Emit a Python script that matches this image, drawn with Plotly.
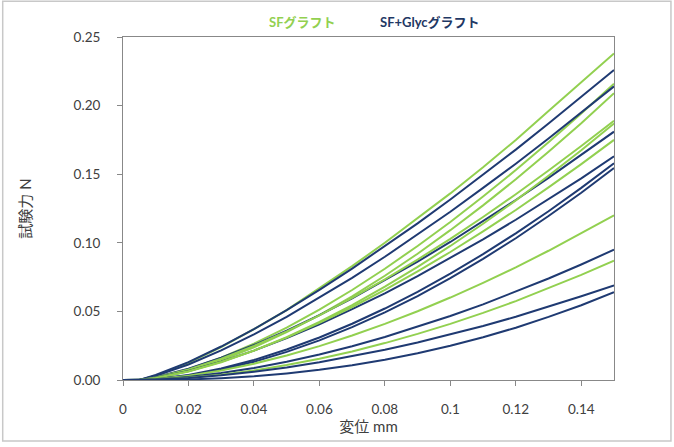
import plotly.graph_objects as go

# Displacement (mm)
x_mm = [0, 0.005, 0.01, 0.02, 0.03, 0.04, 0.05, 0.06, 0.07, 0.08, 0.09, 0.10,
        0.11, 0.12, 0.13, 0.14, 0.15]

# SF graft curves (test force, N)
sf_1 = [0, 0, 0.003, 0.0126, 0.024, 0.037, 0.051, 0.067, 0.083, 0.100, 0.118, 0.136, 0.155, 0.175, 0.196, 0.217, 0.238]
sf_2 = [0, 0, 0.0018, 0.0078, 0.0162, 0.0265, 0.0382, 0.0513, 0.0656, 0.0811, 0.0977, 0.1152, 0.1337, 0.153, 0.1733, 0.1942, 0.216]
sf_3 = [0, 0, 0.0015, 0.0068, 0.0144, 0.0239, 0.0349, 0.0473, 0.061, 0.076, 0.092, 0.1092, 0.1273, 0.1463, 0.1664, 0.1872, 0.209]
sf_4 = [0, 0, 0.0018, 0.0077, 0.0155, 0.0248, 0.0354, 0.0471, 0.0598, 0.0733, 0.0878, 0.1029, 0.1188, 0.1354, 0.1527, 0.1705, 0.189]
sf_5 = [0, 0, 0.0013, 0.0061, 0.0129, 0.0214, 0.0312, 0.0424, 0.0546, 0.068, 0.0824, 0.0977, 0.1139, 0.1309, 0.1489, 0.1675, 0.187]
sf_6 = [0, 0, 0.0015, 0.0064, 0.0132, 0.0214, 0.0309, 0.0416, 0.0532, 0.0657, 0.0792, 0.0933, 0.1083, 0.1239, 0.1404, 0.1573, 0.175]
sf_7 = [0, 0, 0.0006, 0.0031, 0.007, 0.0119, 0.0178, 0.0247, 0.0324, 0.0409, 0.0501, 0.0601, 0.0708, 0.0821, 0.0942, 0.1068, 0.120]
sf_8 = [0, 0, 0.0003, 0.0016, 0.0039, 0.007, 0.0109, 0.0155, 0.0208, 0.0269, 0.0336, 0.0409, 0.0489, 0.0575, 0.0668, 0.0766, 0.087]

# SF+Glyc graft curves (test force, N)
gl_1 = [0, 0, 0.0037, 0.013, 0.0244, 0.0371, 0.0509, 0.0657, 0.0812, 0.0974, 0.1142, 0.1316, 0.1495, 0.1679, 0.1869, 0.2062, 0.226]
gl_2 = [0, 0, 0.0031, 0.0113, 0.0216, 0.0332, 0.046, 0.060, 0.0745, 0.0898, 0.106, 0.1226, 0.140, 0.1576, 0.176, 0.1947, 0.214]
gl_3 = [0, 0, 0.0021, 0.0082, 0.0162, 0.0255, 0.0359, 0.0473, 0.0595, 0.0726, 0.0863, 0.1006, 0.1156, 0.1312, 0.1473, 0.1639, 0.181]
gl_4 = [0, 0, 0.0016, 0.0066, 0.0134, 0.0214, 0.0305, 0.0406, 0.0516, 0.0632, 0.0757, 0.0888, 0.1025, 0.1168, 0.1317, 0.147, 0.163]
gl_5 = [0, 0, 0.0007, 0.0037, 0.0084, 0.0146, 0.0222, 0.031, 0.041, 0.0521, 0.0643, 0.0775, 0.0917, 0.1069, 0.123, 0.14, 0.158]
gl_6 = [0, 0, 0.0006, 0.0032, 0.0076, 0.0133, 0.0205, 0.0289, 0.0385, 0.0493, 0.0612, 0.0742, 0.0883, 0.1033, 0.1195, 0.1365, 0.1545]
gl_7 = [0, 0, 0.0004, 0.0022, 0.0051, 0.0088, 0.0133, 0.0186, 0.0246, 0.0313, 0.0387, 0.0466, 0.0551, 0.0643, 0.074, 0.0842, 0.095]
gl_8 = [0, 0, 0.0003, 0.0014, 0.0034, 0.006, 0.0091, 0.0129, 0.0172, 0.022, 0.0273, 0.0332, 0.0394, 0.0461, 0.0534, 0.061, 0.069]
gl_9 = [0, 0, 0.0000, 0.0004, 0.0013, 0.0027, 0.0048, 0.0074, 0.0107, 0.0147, 0.0195, 0.0249, 0.0312, 0.0381, 0.046, 0.0545, 0.064]

sf_series = [sf_1, sf_2, sf_3, sf_4, sf_5, sf_6, sf_7, sf_8]
gl_series = [gl_1, gl_2, gl_3, gl_4, gl_5, gl_6, gl_7, gl_8, gl_9]

legend_names = ["SFグラフト", "SF+Glycグラフト"]
x_title = "変位 mm"
y_title = "試験力 N"
x_ticks = [0, 0.02, 0.04, 0.06, 0.08, 0.10, 0.12, 0.14]
x_tick_labels = ["0", "0.02", "0.04", "0.06", "0.08", "0.1", "0.12", "0.14"]
y_ticks = [0, 0.05, 0.10, 0.15, 0.20, 0.25]
y_tick_labels = ["0.00", "0.05", "0.10", "0.15", "0.20", "0.25"]

GREEN = "#92D050"
NAVY = "#1F3A72"
FONT = "Lato, 'Noto Sans CJK JP', sans-serif"

fig = go.Figure()
n = max(len(sf_series), len(gl_series))
for i in range(n):
    if i < len(sf_series):
        fig.add_trace(go.Scatter(x=x_mm, y=sf_series[i], mode="lines",
                                 line=dict(color=GREEN, width=2),
                                 name=legend_names[0], showlegend=False))
    if i < len(gl_series):
        fig.add_trace(go.Scatter(x=x_mm, y=gl_series[i], mode="lines",
                                 line=dict(color=NAVY, width=2),
                                 name=legend_names[1], showlegend=False))

axis_common = dict(showline=True, linecolor="#888888", linewidth=1, mirror=True,
                   showgrid=False, zeroline=False, ticks="outside", ticklen=5,
                   tickcolor="#888888", tickfont=dict(family=FONT, size=13.5, color="#404040"))

fig.update_xaxes(range=[0, 0.15], tickvals=x_ticks, ticktext=x_tick_labels,
                 ticklabelstandoff=12,
                 title=dict(text=x_title, font=dict(family=FONT, size=15, color="#404040"),
                            standoff=3),
                 **axis_common)
fig.update_yaxes(range=[0, 0.25], tickvals=y_ticks, ticktext=y_tick_labels,
                 ticklabelstandoff=14,
                 title=dict(text=y_title, font=dict(family=FONT, size=15, color="#404040"),
                            standoff=38),
                 **axis_common)

fig.add_annotation(text="<b>" + legend_names[0] + "</b>", xref="paper", yref="paper",
                   x=0.365, y=1.044, xanchor="center", yanchor="middle", showarrow=False,
                   font=dict(family=FONT, size=13, color=GREEN))
fig.add_annotation(text="<b>" + legend_names[1] + "</b>", xref="paper", yref="paper",
                   x=0.626, y=1.044, xanchor="center", yanchor="middle", showarrow=False,
                   font=dict(family=FONT, size=13, color="#1F3864"))

fig.add_shape(type="rect", xref="paper", yref="paper",
              x0=-0.245, x1=1.116, y0=-0.178, y1=1.104,
              line=dict(color="#C8C8C8", width=1.5), layer="below")

fig.update_layout(width=674, height=447,
                  margin=dict(l=123, r=60, t=37, b=67),
                  paper_bgcolor="white", plot_bgcolor="white",
                  showlegend=False)

fig.write_html("out.html")
